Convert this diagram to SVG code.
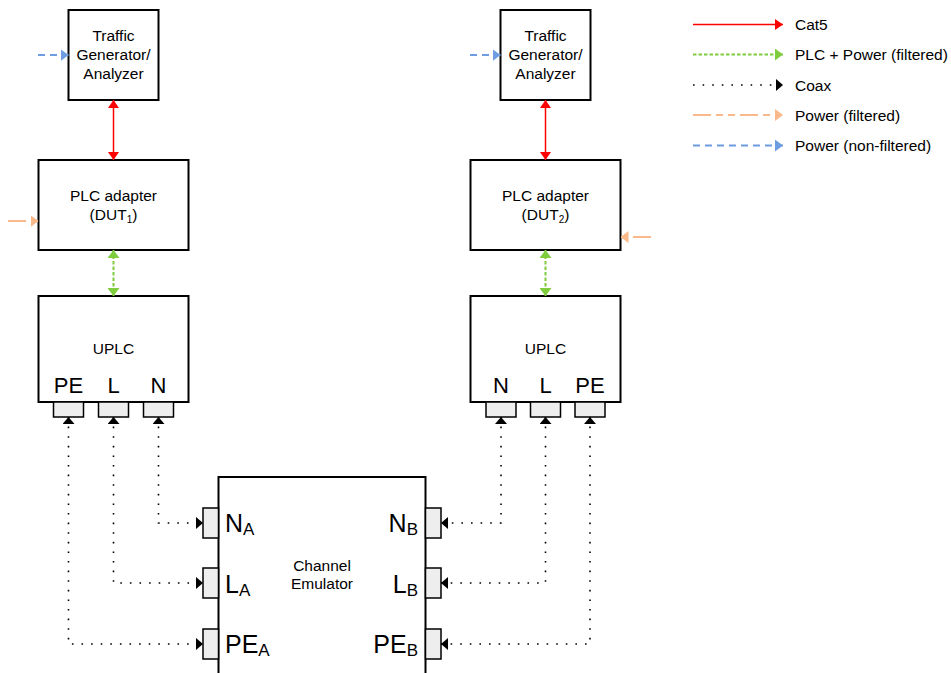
<svg xmlns="http://www.w3.org/2000/svg" width="951" height="673" viewBox="0 0 951 673">
  <style>
    text { font-family: "Liberation Sans", Arial, sans-serif; fill: #000; }
    .lbl { font-size: 15.5px; text-anchor: middle; }
    .leg { font-size: 15.5px; }
    .pin { font-size: 22px; text-anchor: middle; }
    .term { font-size: 25px; }
    .box { fill: #fff; stroke: #000; stroke-width: 2; }
    .port { fill: #eeeeee; stroke: #000; stroke-width: 1.5; }
    .cat5 { stroke: #ff0000; stroke-width: 1.5; fill: none; }
    .plc { stroke: #7fcc3e; stroke-width: 2; stroke-dasharray: 3.5 2; fill: none; }
    .coax { stroke: #000; stroke-width: 1.6; stroke-dasharray: 1.6 8; fill: none; }
    .pwrf { stroke: #f9b98a; stroke-width: 2; stroke-dasharray: 18 5 7 5 7 5; fill: none; }
    .pwrn { stroke: #6d9de0; stroke-width: 2; stroke-dasharray: 7 5; fill: none; }
  </style>
  <defs>
    <marker id="aRed" markerUnits="userSpaceOnUse" markerWidth="8" markerHeight="11" refX="8" refY="5.5" orient="auto-start-reverse">
      <path d="M0,0 L8,5.5 L0,11 z" fill="#ff0000"/>
    </marker>
    <marker id="aGreen" markerUnits="userSpaceOnUse" markerWidth="8" markerHeight="12" refX="8" refY="6" orient="auto-start-reverse">
      <path d="M0,0 L8,6 L0,12 z" fill="#7fcc3e"/>
    </marker>
    <marker id="aBlack" markerUnits="userSpaceOnUse" markerWidth="7" markerHeight="12" refX="7" refY="6" orient="auto-start-reverse">
      <path d="M0,0 L7,6 L0,12 z" fill="#000"/>
    </marker>
    <marker id="aOrange" markerUnits="userSpaceOnUse" markerWidth="8" markerHeight="12" refX="8" refY="6" orient="auto">
      <path d="M0,0 L8,6 L0,12 z" fill="#f9b98a"/>
    </marker>
    <marker id="aBlue" markerUnits="userSpaceOnUse" markerWidth="8" markerHeight="12" refX="8" refY="6" orient="auto">
      <path d="M0,0 L8,6 L0,12 z" fill="#6d9de0"/>
    </marker>
  </defs>

  <!-- Left chain -->
  <g id="tga1">
    <rect class="box" x="68.5" y="10" width="90" height="90"/>
    <text class="lbl" x="113.5" y="41">Traffic</text>
    <text class="lbl" x="113.5" y="60">Generator/</text>
    <text class="lbl" x="113.5" y="79">Analyzer</text>
  </g>
  <g id="dut1">
    <rect class="box" x="38.5" y="160" width="150" height="90"/>
    <text class="lbl" x="113.5" y="201">PLC adapter</text>
    <text class="lbl" x="113.5" y="220">(DUT<tspan font-size="10" dy="3">1</tspan><tspan dy="-3">)</tspan></text>
  </g>
  <g id="uplc1">
    <rect class="box" x="38.5" y="296" width="150" height="106"/>
    <text class="lbl" x="113.5" y="354">UPLC</text>
    <text class="pin" x="68.5" y="393">PE</text>
    <text class="pin" x="113.5" y="393">L</text>
    <text class="pin" x="158.5" y="393">N</text>
    <rect class="port" x="53.5" y="402" width="30" height="15"/>
    <rect class="port" x="98.5" y="402" width="30" height="15"/>
    <rect class="port" x="143.5" y="402" width="30" height="15"/>
  </g>

  <!-- Right chain -->
  <g id="tga2">
    <rect class="box" x="500.5" y="10" width="90" height="90"/>
    <text class="lbl" x="545.5" y="41">Traffic</text>
    <text class="lbl" x="545.5" y="60">Generator/</text>
    <text class="lbl" x="545.5" y="79">Analyzer</text>
  </g>
  <g id="dut2">
    <rect class="box" x="470.5" y="160" width="150" height="90"/>
    <text class="lbl" x="545.5" y="201">PLC adapter</text>
    <text class="lbl" x="545.5" y="220">(DUT<tspan font-size="10" dy="3">2</tspan><tspan dy="-3">)</tspan></text>
  </g>
  <g id="uplc2">
    <rect class="box" x="470.5" y="296" width="150" height="106"/>
    <text class="lbl" x="545.5" y="354">UPLC</text>
    <text class="pin" x="501" y="393">N</text>
    <text class="pin" x="545.5" y="393">L</text>
    <text class="pin" x="590" y="393">PE</text>
    <rect class="port" x="486" y="402" width="30" height="15"/>
    <rect class="port" x="530.5" y="402" width="30" height="15"/>
    <rect class="port" x="575" y="402" width="30" height="15"/>
  </g>

  <!-- Channel emulator -->
  <g id="emulator">
    <rect class="box" x="218.5" y="477" width="207" height="210" stroke-width="1.5"/>
    <text class="lbl" x="322" y="571">Channel</text>
    <text class="lbl" x="322" y="589">Emulator</text>
    <rect class="port" x="203" y="508" width="15.5" height="30"/>
    <rect class="port" x="203" y="568" width="15.5" height="30"/>
    <rect class="port" x="203" y="629" width="15.5" height="30"/>
    <rect class="port" x="425.5" y="508" width="15.5" height="30"/>
    <rect class="port" x="425.5" y="568" width="15.5" height="30"/>
    <rect class="port" x="425.5" y="629" width="15.5" height="30"/>
    <text class="term" x="225" y="532">N<tspan font-size="17" dy="3">A</tspan></text>
    <text class="term" x="225" y="593">L<tspan font-size="17" dy="3">A</tspan></text>
    <text class="term" x="225" y="653">PE<tspan font-size="17" dy="3">A</tspan></text>
    <text class="term" x="418" y="532" text-anchor="end">N<tspan font-size="17" dy="3">B</tspan></text>
    <text class="term" x="418" y="593" text-anchor="end">L<tspan font-size="17" dy="3">B</tspan></text>
    <text class="term" x="418" y="653" text-anchor="end">PE<tspan font-size="17" dy="3">B</tspan></text>
  </g>

  <!-- Connectors -->
  <g id="connectors">
    <line class="cat5" x1="113.5" y1="100" x2="113.5" y2="160" marker-start="url(#aRed)" marker-end="url(#aRed)"/>
    <line class="cat5" x1="545.5" y1="100" x2="545.5" y2="160" marker-start="url(#aRed)" marker-end="url(#aRed)"/>
    <line class="plc" x1="113.5" y1="250" x2="113.5" y2="296" marker-start="url(#aGreen)" marker-end="url(#aGreen)"/>
    <line class="plc" x1="545.5" y1="250" x2="545.5" y2="296" marker-start="url(#aGreen)" marker-end="url(#aGreen)"/>
    <line class="pwrn" x1="38" y1="55" x2="68.5" y2="55" marker-end="url(#aBlue)"/>
    <line class="pwrn" x1="470" y1="55" x2="500.5" y2="55" marker-end="url(#aBlue)"/>
    <line class="pwrf" x1="8" y1="221" x2="38.5" y2="221" marker-end="url(#aOrange)"/>
    <line class="pwrf" x1="651" y1="237" x2="620.5" y2="237" marker-end="url(#aOrange)"/>

    <path class="coax" d="M158.5,417 V523 H203" marker-start="url(#aBlack)" marker-end="url(#aBlack)"/>
    <path class="coax" d="M113.5,417 V583 H203" marker-start="url(#aBlack)" marker-end="url(#aBlack)"/>
    <path class="coax" d="M68.5,417 V644 H203" marker-start="url(#aBlack)" marker-end="url(#aBlack)"/>
    <path class="coax" d="M501,417 V523 H441" marker-start="url(#aBlack)" marker-end="url(#aBlack)"/>
    <path class="coax" d="M545.5,417 V583 H441" marker-start="url(#aBlack)" marker-end="url(#aBlack)"/>
    <path class="coax" d="M590,417 V644 H441" marker-start="url(#aBlack)" marker-end="url(#aBlack)"/>
  </g>

  <!-- Legend -->
  <g id="legend">
    <line class="cat5" x1="693" y1="24.5" x2="783" y2="24.5" marker-end="url(#aRed)"/>
    <line class="plc" x1="693" y1="54.5" x2="783" y2="54.5" marker-end="url(#aGreen)"/>
    <line class="coax" x1="693" y1="85" x2="783" y2="85" marker-end="url(#aBlack)"/>
    <line class="pwrf" x1="693" y1="115" x2="783" y2="115" marker-end="url(#aOrange)"/>
    <line class="pwrn" x1="693" y1="145.5" x2="783" y2="145.5" marker-end="url(#aBlue)"/>
    <text class="leg" x="795" y="30">Cat5</text>
    <text class="leg" x="795" y="60">PLC + Power (filtered)</text>
    <text class="leg" x="795" y="91">Coax</text>
    <text class="leg" x="795" y="121">Power (filtered)</text>
    <text class="leg" x="795" y="151">Power (non-filtered)</text>
  </g>
</svg>
